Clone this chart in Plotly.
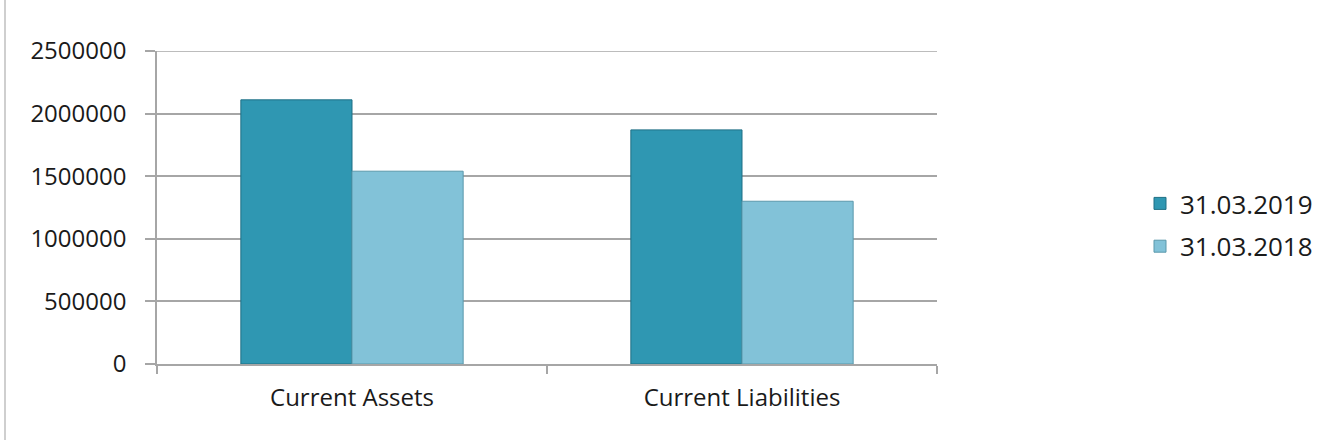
import plotly.graph_objects as go

categories = ["Current Assets", "Current Liabilities"]
series_names = ["31.03.2019", "31.03.2018"]
values_2019 = [2110000, 1870000]
values_2018 = [1540000, 1300000]
y_ticks = [0, 500000, 1000000, 1500000, 2000000, 2500000]

W, H = 1335, 445
L, R, T, B = 157, 398, 51, 81
pw = W - L - R
ph = H - T - B

fig = go.Figure()
fig.add_trace(go.Bar(
    x=categories, y=values_2019, name=series_names[0], legendgroup="a",
    marker=dict(color="#2f97b2", line=dict(color="#1f6f85", width=1)),
))
fig.add_trace(go.Bar(
    x=categories, y=values_2018, name=series_names[1], legendgroup="b",
    marker=dict(color="#82c2d8", line=dict(color="#5b98ab", width=1)),
))

yfont = dict(family="Open Sans, sans-serif", size=24, color="#1a1a1a")
xfont = dict(family="Open Sans, sans-serif", size=24, color="#1a1a1a")
lfont = dict(family="Open Sans, sans-serif", size=26, color="#1a1a1a")

fig.update_layout(
    width=W, height=H,
    margin=dict(l=L, r=R, t=T, b=B),
    paper_bgcolor="white", plot_bgcolor="white",
    barmode="group", bargap=0.43, bargroupgap=0,
    showlegend=True,
    legend=dict(x=(1140 - L) / pw, y=(364 - 225) / ph, xanchor="left", yanchor="middle",
                font=lfont, tracegroupgap=6, traceorder="grouped", itemwidth=30),
    xaxis=dict(showline=True, linecolor="#a6a6a6", linewidth=1.5,
               ticks="outside", tickson="boundaries", ticklen=8, tickcolor="#a6a6a6",
               tickwidth=1.5, showgrid=False, tickfont=xfont, ticklabelstandoff=11),
    yaxis=dict(range=[0, 2500000], tickvals=y_ticks, ticktext=[str(v) for v in y_ticks],
               showline=True, linecolor="#a6a6a6", linewidth=1.5,
               ticks="outside", ticklen=10, tickcolor="#a6a6a6", tickwidth=1.5,
               showgrid=True, gridcolor="#a6a6a6", gridwidth=1.5,
               zeroline=False, tickfont=yfont, ticklabelstandoff=14),
)

# top gridline (at the end of the value range)
fig.add_shape(type="line", xref="paper", yref="y", x0=0, x1=1,
              y0=y_ticks[-1], y1=y_ticks[-1], layer="below",
              line=dict(color="#a6a6a6", width=1.5))

fig.add_shape(type="line", xref="paper", yref="paper",
              x0=(5 - L) / pw, x1=(5 - L) / pw,
              y0=(H - B - 0) / ph, y1=(H - B - 440) / ph,
              line=dict(color="#bfbfbf", width=1.5))

fig.write_html("out.html")
